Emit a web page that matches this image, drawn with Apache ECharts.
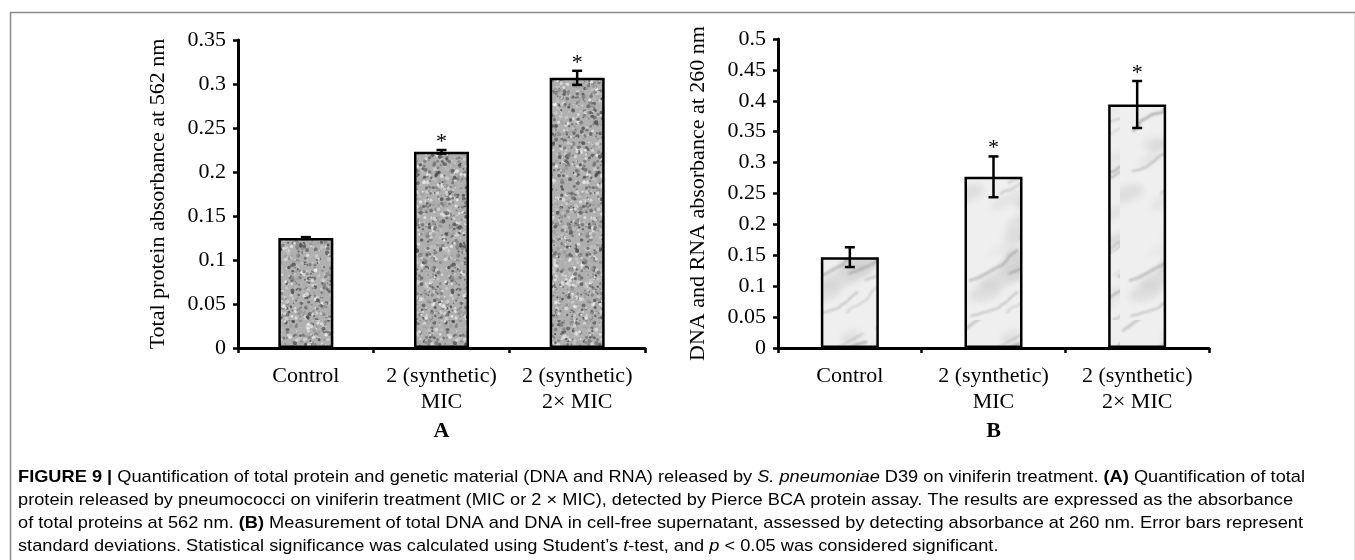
<!DOCTYPE html>
<html>
<head>
<meta charset="UTF-8">
<title>Figure 9</title>
<script src="https://cdn.jsdelivr.net/npm/echarts@6/dist/echarts.min.js"></script>
<style>
html, body { margin: 0; padding: 0; background: #fff; }
#main { width: 1355px; height: 560px; }
</style>
</head>
<body>
<div id="main"></div>
<script>
// data
var categories = ['Control', '2 (synthetic)\nMIC', '2 (synthetic)\n2\u00d7 MIC'];
var proteinMean = [0.125, 0.223, 0.307];
var proteinSd = [0.001, 0.002, 0.008];
var nucleicMean = [0.147, 0.277, 0.394];
var nucleicSd = [0.016, 0.033, 0.038];
var significant = [0, 1, 1];
var axisA = { min: 0, max: 0.35, interval: 0.05 };
var axisB = { min: 0, max: 0.5, interval: 0.05 };
var titleA = 'Total protein absorbance at 562 nm';
var titleB = 'DNA and RNA absorbance at 260 nm';

var captionLines = [
  [['b', 'FIGURE 9 | '], ['n', 'Quantification of total protein and genetic material (DNA and RNA) released by '], ['i', 'S. pneumoniae'], ['n', ' D39 on viniferin treatment. '], ['b', '(A)'], ['n', ' Quantification of total']],
  [['n', 'protein released by pneumococci on viniferin treatment (MIC or 2 \u00d7 MIC), detected by Pierce BCA protein assay. The results are expressed as the absorbance']],
  [['n', 'of total proteins at 562 nm. '], ['b', '(B)'], ['n', ' Measurement of total DNA and DNA in cell-free supernatant, assessed by detecting absorbance at 260 nm. Error bars represent']],
  [['n', 'standard deviations. Statistical significance was calculated using Student\u2019s '], ['i', 't'], ['n', '-test, and '], ['i', 'p'], ['n', ' < 0.05 was considered significant.']]
];

var SERIF = '"Liberation Serif", "Times New Roman", serif';
var SANS = '"Liberation Sans", Arial, sans-serif';

// bar fill textures (deterministic)
function makeTexture(kind) {
  var W = 160, H = 320;
  var c = document.createElement('canvas');
  c.width = W; c.height = H;
  var ctx = c.getContext('2d');
  var seed = kind === 'granite' ? 12345 : 54321;
  function rnd() { seed = (seed * 16807) % 2147483647; return seed / 2147483647; }
  if (kind === 'granite') {
    ctx.fillStyle = '#b0b0b0';
    ctx.fillRect(0, 0, W, H);
    ctx.filter = 'blur(0.4px)';
    for (var i = 0; i < 5200; i++) {
      var g = Math.floor(70 + rnd() * 175);
      ctx.fillStyle = 'rgba(' + g + ',' + g + ',' + g + ',0.8)';
      ctx.beginPath();
      ctx.arc(rnd() * W, rnd() * H, 0.6 + rnd() * 1.5, 0, Math.PI * 2);
      ctx.fill();
    }
    ctx.filter = 'none';
  } else {
    ctx.fillStyle = '#efefef';
    ctx.fillRect(0, 0, W, H);
    ctx.filter = 'blur(3px)';
    for (var k = 0; k < 50; k++) {
      var g2 = Math.floor(195 + rnd() * 35);
      ctx.fillStyle = 'rgba(' + g2 + ',' + g2 + ',' + g2 + ',0.5)';
      ctx.beginPath();
      ctx.ellipse(rnd() * W, rnd() * H, 8 + rnd() * 20, 3 + rnd() * 6, -0.6 + rnd() * 0.4, 0, Math.PI * 2);
      ctx.fill();
    }
    ctx.filter = 'blur(1px)';
    for (var j = 0; j < 34; j++) {
      var x = rnd() * W, y = rnd() * H;
      ctx.strokeStyle = 'rgba(100,100,100,' + (0.25 + rnd() * 0.25) + ')';
      ctx.lineWidth = 0.8 + rnd() * 1.8;
      ctx.beginPath();
      ctx.moveTo(x, y);
      for (var s = 0; s < 8; s++) {
        x += 3 + rnd() * 6;
        y -= 1 + rnd() * 5;
        ctx.lineTo(x, y);
      }
      ctx.stroke();
    }
    ctx.filter = 'none';
  }
  return c;
}
var graniteTex = makeTexture('granite');
var marbleTex = makeTexture('marble');

function valueAxis(idx, range, name) {
  return {
    type: 'value', gridIndex: idx,
    min: range.min, max: range.max, interval: range.interval,
    name: name, nameLocation: 'middle', nameGap: 69,
    nameTextStyle: { fontFamily: SERIF, fontSize: 22, color: '#000' },
    axisLine: { show: true, lineStyle: { color: '#000', width: 3 } },
    axisTick: { show: true, length: 5, lineStyle: { color: '#000', width: 2.5 } },
    axisLabel: { fontFamily: SERIF, fontSize: 22, color: '#000', margin: 12 },
    splitLine: { show: false }
  };
}

function categoryAxis(idx, name) {
  return {
    type: 'category', gridIndex: idx, data: categories,
    name: name, nameLocation: 'middle', nameGap: 67,
    nameTextStyle: { fontFamily: SERIF, fontSize: 22, fontWeight: 'bold', color: '#000' },
    axisLine: { lineStyle: { color: '#000', width: 3 } },
    axisTick: { show: true, interval: 0, length: 5, lineStyle: { color: '#000', width: 2.5 } },
    axisLabel: { interval: 0, fontFamily: SERIF, fontSize: 22, color: '#000', margin: 15, lineHeight: 26 }
  };
}

function barSeries(idx, values, tex, w) {
  return {
    type: 'bar', xAxisIndex: idx, yAxisIndex: idx, data: values, barWidth: w,
    itemStyle: { color: { image: tex, repeat: 'repeat' }, borderColor: '#000', borderWidth: 2.5 },
    silent: true
  };
}

function errorSeries(idx, mean, sd) {
  return {
    type: 'custom', xAxisIndex: idx, yAxisIndex: idx, z: 10, silent: true,
    data: mean.map(function (m, i) { return [i, m, sd[i], significant[i]]; }),
    renderItem: function (params, api) {
      var x = api.value(0), m = api.value(1), s = api.value(2);
      var hi = api.coord([x, m + s]);
      var lo = api.coord([x, m - s]);
      var hw = 5;
      var st = { stroke: '#000', lineWidth: 2.5 };
      var kids = [
        { type: 'line', shape: { x1: hi[0], y1: hi[1], x2: lo[0], y2: lo[1] }, style: st },
        { type: 'line', shape: { x1: hi[0] - hw, y1: hi[1], x2: hi[0] + hw, y2: hi[1] }, style: st },
        { type: 'line', shape: { x1: lo[0] - hw, y1: lo[1], x2: lo[0] + hw, y2: lo[1] }, style: st }
      ];
      if (api.value(3)) {
        kids.push({ type: 'text', x: hi[0], y: hi[1] - 8,
          style: { text: '*', font: '22px ' + SERIF, fill: '#000', align: 'center', verticalAlign: 'middle' } });
      }
      return { type: 'group', children: kids };
    }
  };
}

// caption: sans, squeezed so line 3 matches its width in the figure
var CAP = 17;
var mctx = document.createElement('canvas').getContext('2d');
function segFont(kind) {
  return (kind === 'i' ? 'italic ' : '') + (kind === 'b' ? 'bold ' : '') + CAP + 'px ' + SANS;
}
function lineWidth(line) {
  var w = 0;
  line.forEach(function (s) { mctx.font = segFont(s[0]); w += mctx.measureText(s[1]).width; });
  return w;
}
var capScale = 1285 / lineWidth(captionLines[2]);
var capRich = {
  n: { fontFamily: SANS, fontSize: CAP, color: '#404040' },
  b: { fontFamily: SANS, fontSize: CAP, fontWeight: 'bold', color: '#262626' },
  i: { fontFamily: SANS, fontSize: CAP, fontStyle: 'italic', color: '#404040' }
};
var captionGraphics = captionLines.map(function (line, k) {
  return {
    type: 'text', x: 18, y: 477 + k * 23, scaleX: capScale, silent: true,
    style: {
      text: line.map(function (s) { return '{' + s[0] + '|' + s[1] + '}'; }).join(''),
      rich: capRich, verticalAlign: 'middle'
    }
  };
});

var option = {
  animation: false,
  backgroundColor: '#fff',
  grid: [
    { left: 238, top: 40, width: 407, height: 308 },
    { left: 778, top: 39, width: 431, height: 309 }
  ],
  xAxis: [categoryAxis(0, 'A'), categoryAxis(1, 'B')],
  yAxis: [valueAxis(0, axisA, titleA), valueAxis(1, axisB, titleB)],
  series: [
    barSeries(0, proteinMean, graniteTex, 55),
    errorSeries(0, proteinMean, proteinSd),
    barSeries(1, nucleicMean, marbleTex, 58),
    errorSeries(1, nucleicMean, nucleicSd)
  ],
  graphic: [
    { type: 'rect', left: 8, top: 10, shape: { width: 1345, height: 600 },
      style: { fill: 'none', stroke: '#8a8a8a', lineWidth: 1.5 }, silent: true }
  ].concat(captionGraphics)
};

var chart = echarts.init(document.getElementById('main'), null, { renderer: 'canvas' });
chart.setOption(option);
</script>
</body>
</html>
